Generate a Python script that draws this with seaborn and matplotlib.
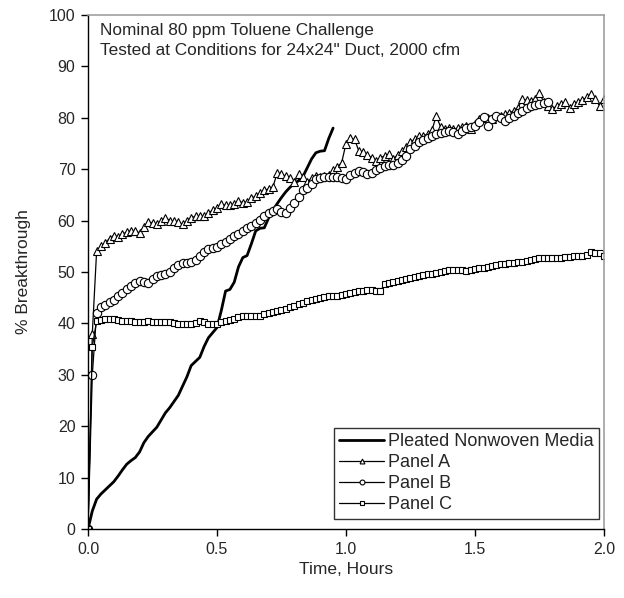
import numpy as np
import pandas as pd
import matplotlib
matplotlib.use("Agg")
import matplotlib.pyplot as plt
import seaborn as sns

# ---- data (time in minutes, values in % breakthrough) ----
pleated_min = list(range(0, 58))
pleated = [0, 3.5, 5.8, 6.8, 7.6, 8.4, 9.2, 10.3, 11.5, 12.6,
           13.3, 13.9, 15.0, 16.8, 18.0, 18.9, 19.8, 21.2, 22.6, 23.6,
           24.8, 26.0, 27.8, 29.6, 31.8, 32.6, 33.4, 35.5, 37.2, 38.2,
           39.2, 42.5, 46.3, 46.6, 48.0, 51.0, 52.8, 53.2, 55.5, 58.0,
           58.5, 58.6, 60.5, 62.0, 63.3, 64.5, 65.6, 66.5, 67.2, 67.8,
           68.6, 70.3, 72.0, 73.2, 73.5, 73.6, 76.0, 78.0]

panel_a_min = list(range(0, 121))
panel_a = [0, 38, 54.0, 55.0, 55.7, 56.5, 57.1, 56.8, 57.3, 57.8,
           58.0, 58.0, 57.6, 58.8, 59.7, 59.6, 59.3, 60.0, 60.6, 60.0,
           59.9, 59.7, 59.3, 60.0, 60.6, 60.8, 60.8, 60.9, 61.5, 62.0,
           62.5, 63.2, 63.0, 63.0, 63.2, 63.8, 63.5, 63.6, 64.3, 64.8,
           65.4, 66.0, 66.1, 66.5, 69.3, 69.1, 68.6, 68.2, 67.5, 69.0,
           68.4, 67.6, 68.2, 68.7, 68.5, 68.7, 68.8, 69.8, 70.4, 71.3,
           75.0, 76.0, 75.8, 73.5, 73.4, 72.8, 72.2, 71.6, 72.2, 72.6,
           72.9, 72.0, 72.8, 73.5, 74.4, 75.2, 75.9, 76.4, 76.5, 76.8,
           77.6, 80.4, 78.2, 77.8, 78.0, 77.8, 78.0, 78.2, 78.4, 77.8,
           78.8, 79.7, 79.9, 80.0, 79.7, 80.3, 80.4, 80.7, 81.0, 81.3,
           82.0, 83.6, 83.4, 83.3, 83.7, 84.9, 83.0, 82.2, 81.7, 82.3,
           82.6, 83.0, 82.0, 82.7, 83.0, 83.4, 84.0, 84.6, 83.6, 82.3,
           83.6]

panel_b_min = list(range(0, 108))
panel_b = [0, 30, 42.0, 43.2, 43.6, 44.2, 44.6, 45.4, 45.9, 46.6,
           47.2, 47.8, 48.2, 48.0, 47.9, 48.7, 49.3, 49.5, 49.7, 50.0,
           50.8, 51.4, 51.8, 51.8, 51.9, 52.4, 53.1, 53.8, 54.4, 54.6,
           54.8, 55.4, 55.9, 56.5, 57.0, 57.4, 58.0, 58.5, 58.9, 59.6,
           60.2, 60.9, 61.4, 61.9, 62.2, 61.6, 61.5, 62.4, 63.5, 64.6,
           66.0, 66.4, 67.2, 68.0, 68.2, 68.4, 68.4, 68.4, 68.4, 68.2,
           68.0, 68.8, 69.2, 69.7, 69.4, 69.0, 69.3, 69.8, 70.3, 70.6,
           70.9, 70.9, 71.2, 71.8, 72.5, 74.0, 74.6, 75.2, 75.6, 76.0,
           76.4, 76.8, 77.1, 77.2, 77.5, 77.3, 76.8, 77.4, 78.1, 78.3,
           78.4, 79.2, 80.1, 78.4, 79.7, 80.4, 80.0, 79.4, 80.0, 80.4,
           81.0, 81.4, 82.0, 82.3, 82.5, 82.7, 82.9, 83.0]

panel_c_min = list(range(0, 121))
panel_c = [0, 35.5, 40.4, 40.6, 40.8, 40.9, 40.8, 40.6, 40.5, 40.4,
           40.4, 40.3, 40.2, 40.3, 40.4, 40.3, 40.2, 40.2, 40.2, 40.2,
           40.1, 39.9, 39.8, 39.8, 39.9, 40.1, 40.4, 40.2, 39.9, 39.8,
           39.9, 40.3, 40.5, 40.6, 40.8, 41.2, 41.4, 41.5, 41.4, 41.4,
           41.5, 41.8, 42.0, 42.2, 42.4, 42.6, 42.8, 43.1, 43.4, 43.7,
           44.0, 44.3, 44.6, 44.8, 45.0, 45.2, 45.3, 45.3, 45.4, 45.6,
           45.8, 45.9, 46.1, 46.3, 46.4, 46.5, 46.5, 46.4, 46.3, 47.6,
           47.8, 48.0, 48.2, 48.4, 48.7, 48.9, 49.1, 49.3, 49.4, 49.6,
           49.7, 49.8, 50.0, 50.2, 50.3, 50.4, 50.4, 50.3, 50.2, 50.4,
           50.6, 50.7, 50.8, 51.0, 51.2, 51.3, 51.5, 51.6, 51.7, 51.8,
           51.9, 52.0, 52.2, 52.4, 52.6, 52.8, 52.8, 52.8, 52.8, 52.8,
           52.8, 52.9, 53.0, 53.1, 53.2, 53.2, 53.3, 53.9, 53.7, 53.6,
           53.1]

x_ticks = [0.0, 0.5, 1.0, 1.5, 2.0]
y_ticks = [0, 10, 20, 30, 40, 50, 60, 70, 80, 90, 100]
note_lines = ["Nominal 80 ppm Toluene Challenge",
              "Tested at Conditions for 24x24\" Duct, 2000 cfm"]

# ---- style ----
sns.set_style("white")
plt.rcParams["font.family"] = ["Liberation Sans", "DejaVu Sans"]

fig = plt.figure(figsize=(6.24, 5.98), dpi=100)
ax = fig.add_axes([88 / 624, 69 / 598, 516 / 624, 514 / 598])

def hours(mins):
    return np.array(mins) / 60.0

sns.lineplot(x=hours(pleated_min), y=pleated, ax=ax, color="black",
             linewidth=2.0, label="Pleated Nonwoven Media", sort=False,
             estimator=None)
sns.lineplot(x=hours(panel_a_min), y=panel_a, ax=ax, color="black",
             linewidth=0.9, marker="^", markersize=6, markerfacecolor="white",
             markeredgecolor="black", markeredgewidth=0.8,
             label="Panel A", sort=False, estimator=None)
sns.lineplot(x=hours(panel_b_min), y=panel_b, ax=ax, color="black",
             linewidth=0.9, marker="o", markersize=6, markerfacecolor="white",
             markeredgecolor="black", markeredgewidth=0.8,
             label="Panel B", sort=False, estimator=None)
sns.lineplot(x=hours(panel_c_min), y=panel_c, ax=ax, color="black",
             linewidth=0.9, marker="s", markersize=4.5, markerfacecolor="white",
             markeredgecolor="black", markeredgewidth=0.8,
             label="Panel C", sort=False, estimator=None)

ax.set_xlim(0, 2.0)
ax.set_ylim(0, 100)
ax.set_xticks(x_ticks)
ax.set_xticklabels([f"{v:.1f}" for v in x_ticks])
ax.set_yticks(y_ticks)
ax.set_yticklabels([str(v) for v in y_ticks])
ax.tick_params(axis="both", which="major", direction="out", length=5,
               width=1, color="black", labelsize=11.5, pad=4,
               bottom=True, left=True)
ax.set_xlabel("Time, Hours", fontsize=12.5, labelpad=4)
ax.set_ylabel("% Breakthrough", fontsize=12.5, labelpad=13)

for side in ["left", "bottom"]:
    ax.spines[side].set_color("black")
    ax.spines[side].set_linewidth(1.0)
for side in ["top", "right"]:
    ax.spines[side].set_visible(True)
    ax.spines[side].set_color("#a0a0a0")
    ax.spines[side].set_linewidth(1.2)

ax.text(12 / 516, 0.985, "\n".join(note_lines), transform=ax.transAxes,
        ha="left", va="top", fontsize=12.4, linespacing=1.45)

leg = ax.legend(loc="lower right", bbox_to_anchor=(0.99, 0.02),
                frameon=True, fancybox=False, edgecolor="black",
                fontsize=13, handlelength=2.5, handletextpad=0.2,
                borderpad=0.3, labelspacing=0.22, borderaxespad=0.0)
leg.get_frame().set_linewidth(1.0)
for h in leg.legend_handles:
    h.set_markersize(3.5)

fig.savefig("out.png", dpi=100, facecolor="white")
